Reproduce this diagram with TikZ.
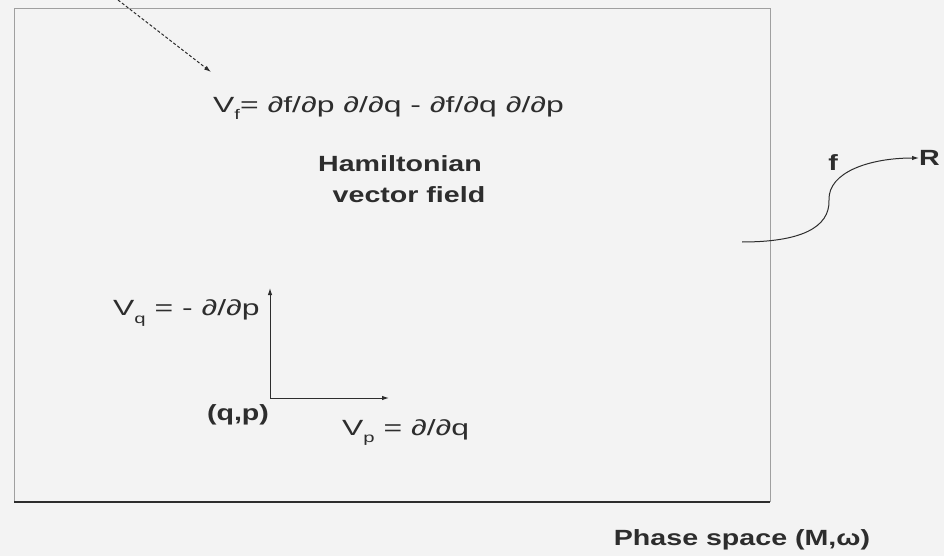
\documentclass[tikz,border=0pt]{standalone}
\usepackage{fontspec}
\usepackage{graphicx}
\setmainfont{Liberation Sans}
\usetikzlibrary{arrows.meta}
\definecolor{bgc}{RGB}{243,243,243}
\definecolor{ink}{RGB}{45,45,45}
\newcommand{\widetxt}[1]{\scalebox{1.30}[1]{#1}}
\newcommand{\widefml}[1]{\scalebox{1.45}[1]{#1}}
\newcommand{\lowsub}[1]{\raisebox{-0.32em}{\fontsize{14}{14}\selectfont #1}}
\begin{document}
\begin{tikzpicture}[x=1pt,y=-1pt,
  txt/.style={inner sep=0pt,text=ink,font=\fontsize{22}{26}\selectfont},
  btxt/.style={txt,font=\fontsize{22}{26}\selectfont\bfseries},
  tip/.style={-{Latex[length=7pt,width=4.5pt]}},
  border/.style={draw=gray!75,line width=0.8pt},
  conn/.style={draw=ink,line width=1pt}]
\useasboundingbox (0,0) rectangle (944,556);
\fill[bgc] (0,0) rectangle (944,556);
% phase space box
\coordinate (bl) at (14,502);
\coordinate (tl) at (14,8);
\coordinate (tr) at (770,8);
\coordinate (br) at (770,502);
\draw[border] (bl) -- (tl) -- (tr) -- (br);
\draw[draw=ink,line width=1.6pt] (bl) -- (br);
% dashed pointer
\coordinate (ds) at (118,0);
\coordinate (de) at (211,72);
\draw[conn,tip,dashed,dash pattern=on 3pt off 2pt] (ds) -- (de);
% texts
\node[txt,anchor=west] (vf) at (213,108) {\widefml{V\lowsub{f}= ∂f/∂p ∂/∂q - ∂f/∂q ∂/∂p}};
\node[btxt] (ham) at (400,164) {\widetxt{Hamiltonian}};
\node[btxt] (vfield) at (409,195) {\widetxt{vector field}};
\node[txt,anchor=west] (vq) at (113,313) {\widefml{V\lowsub{q} = - ∂/∂p}};
\node[btxt] (qp) at (238,415) {\widetxt{(q,p)}};
\node[txt,anchor=west] (vp) at (342,432) {\widefml{V\lowsub{p} = ∂/∂q}};
\node[btxt] (f) at (833,163) {\widetxt{f}};
\node[btxt,anchor=west] (R) at (919,158) {\widetxt{R}};
\node[btxt] (ps) at (742,540) {\widetxt{Phase space (M,ω)}};
% axes
\coordinate (O) at (270,398);
\coordinate (qtop) at (270,288);
\coordinate (pright) at (389,398);
\draw[conn,tip] (O) -- (qtop);
\draw[conn,tip] (O) -- (pright);
% map f
\coordinate (fs) at (742,242);
\draw[conn,tip] (fs) .. controls (800,242) and (830,228) .. (829,200)
  .. controls (828,172) and (870,158) .. (R.west);
\end{tikzpicture}
\end{document}
